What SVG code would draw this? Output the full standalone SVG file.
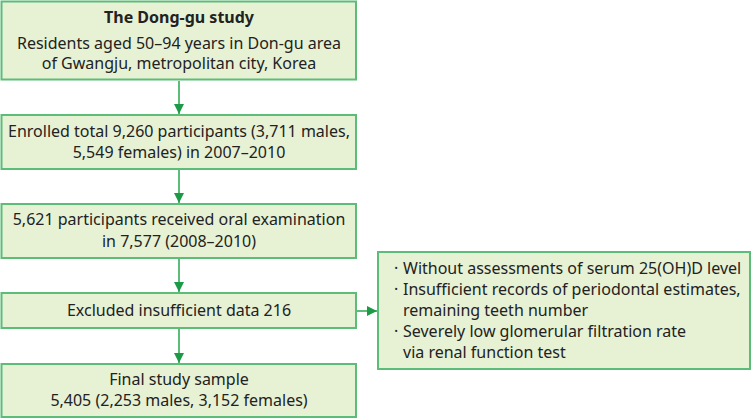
<svg xmlns="http://www.w3.org/2000/svg" width="752" height="419" viewBox="0 0 752 419">
<style>
.box{fill:#e7f1d4;stroke:#5cbd78;stroke-width:2}
.t{font-family:"Noto Sans","Open Sans",sans-serif;font-size:16px;fill:#222;text-anchor:middle}
.l{font-family:"Noto Sans","Open Sans",sans-serif;font-size:16px;fill:#222}
.b{font-weight:bold}
.c{stroke:#5cbd78;stroke-width:2;fill:none;marker-end:url(#ah)}
</style>
<defs>
<marker id="ah" viewBox="0 0 10 10" refX="10" refY="5" markerWidth="5" markerHeight="5" orient="auto" markerUnits="strokeWidth">
<path d="M0,0 L10,5 L0,10 Z" fill="#1c9a48"/>
</marker>
</defs>
<rect width="752" height="419" fill="#fff"/>
<g id="connectors">
<line class="c" x1="179" y1="81" x2="179" y2="114"/>
<line class="c" x1="179" y1="170" x2="179" y2="203"/>
<line class="c" x1="179" y1="259" x2="179" y2="292"/>
<line class="c" x1="179" y1="329" x2="179" y2="363"/>
<line class="c" x1="357" y1="311" x2="377" y2="311"/>
</g>
<g id="n1">
<rect class="box" x="1.5" y="1.5" width="354.5" height="78"/>
<text class="t b" x="179" y="23">The Dong-gu study</text>
<text class="t" x="179" y="49">Residents aged 50–94 years in Don-gu area</text>
<text class="t" x="179" y="69">of Gwangju, metropolitan city, Korea</text>
</g>
<g id="n2">
<rect class="box" x="1.5" y="115" width="354.5" height="54"/>
<text class="t" x="179" y="137">Enrolled total 9,260 participants (3,711 males,</text>
<text class="t" x="179" y="158">5,549 females) in 2007–2010</text>
</g>
<g id="n3">
<rect class="box" x="1.5" y="204" width="354.5" height="54"/>
<text class="t" x="179" y="225">5,621 participants received oral examination</text>
<text class="t" x="179" y="247">in 7,577 (2008–2010)</text>
</g>
<g id="n4">
<rect class="box" x="1.5" y="293" width="354.5" height="35"/>
<text class="t" x="179" y="316">Excluded insufficient data 216</text>
</g>
<g id="n5">
<rect class="box" x="1.5" y="364" width="354.5" height="53"/>
<text class="t" x="179" y="385">Final study sample</text>
<text class="t" x="179" y="406">5,405 (2,253 males, 3,152 females)</text>
</g>
<g id="n6">
<rect class="box" x="378" y="252" width="372" height="117"/>
<text class="l" x="394" y="274">·</text>
<text class="l" x="403" y="274">Without assessments of serum 25(OH)D level</text>
<text class="l" x="394" y="295">·</text>
<text class="l" x="403" y="295">Insufficient records of periodontal estimates,</text>
<text class="l" x="403" y="316">remaining teeth number</text>
<text class="l" x="394" y="337">·</text>
<text class="l" x="403" y="337">Severely low glomerular filtration rate</text>
<text class="l" x="403" y="358">via renal function test</text>
</g>
</svg>
